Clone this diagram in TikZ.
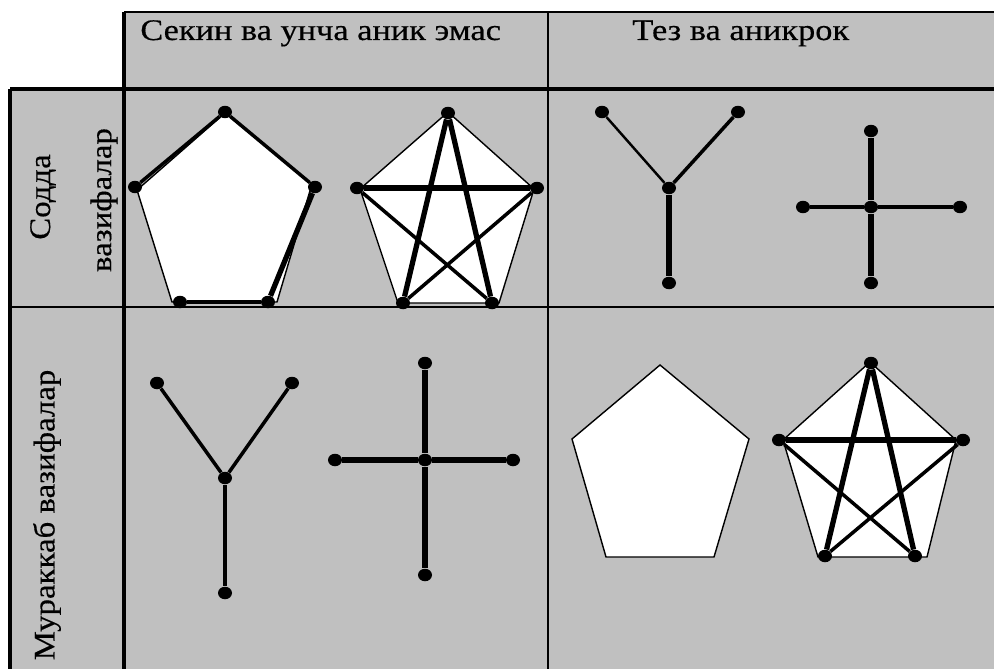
\documentclass[tikz,border=0pt]{standalone}
\usepackage{fontspec}
\usetikzlibrary{shapes.geometric}
\setmainfont{Liberation Serif}
\newfontfamily\headfont[FakeStretch=1.15, FakeBold=0.4]{Liberation Serif}
\newfontfamily\sidefont[FakeStretch=1.1, FakeBold=0.4]{Liberation Serif}
\definecolor{cellgray}{HTML}{C0C0C0}
\begin{document}
\begin{tikzpicture}[x=0.02cm, y=-0.02cm,
    vert/.style={ellipse, fill=black, inner sep=0pt, minimum width=0.28cm, minimum height=0.25cm},
    thinedge/.style={line width=1.4pt},
    midedge/.style={line width=2pt},
    thickedge/.style={line width=3pt},
    outline/.style={draw=black, fill=white, line width=0.8pt},
    label/.style={inner sep=0pt, font=\headfont\fontsize{17}{20}\selectfont},
    sidelabel/.style={inner sep=0pt, rotate=90, font=\sidefont\fontsize{17}{20}\selectfont}]
    \useasboundingbox (0,0) rectangle (994,669);
    % table background
    \fill[cellgray] (124,12) rectangle (994,669);
    \fill[cellgray] (10,89) rectangle (124,669);
    % table lines
    \draw[line width=1.1pt] (124,12) -- (994,12);
    \draw[line width=2.3pt] (10,89) -- (994,89);
    \draw[line width=2.3pt] (10,89) -- (10,669);
    \draw[line width=2.3pt] (124,12) -- (124,669);
    \draw[line width=1.1pt] (548,12) -- (548,669);
    \draw[line width=1.1pt] (10,307) -- (994,307);
    % headers
    \node[label, anchor=base west] (slow) at (140,40) {Секин ва унча аник эмас};
    \node[label, anchor=base west] (fast) at (632,40) {Тез ва аникрок};
    \node[sidelabel] (simple1) at (43,197) {Содда};
    \node[sidelabel] (simple2) at (104,200) {вазифалар};
    \node[sidelabel] (complex) at (47,515) {Мураккаб вазифалар};

    % slow, simple: pentagon with a path
    \draw[outline] (225,113) -- (312,184) -- (277,302) -- (172,302) -- (137,190) -- cycle;
    \node[vert] (p1t) at (225,112) {};
    \node[vert] (p1l) at (135,187) {};
    \node[vert] (p1r) at (315,187) {};
    \node[vert] (p1bl) at (180,302) {};
    \node[vert] (p1br) at (268,302) {};
    \draw[midedge] (p1l) -- (p1t) -- (p1r);
    \draw[thickedge] (p1r) -- (p1br);
    \draw[midedge] (p1br) -- (p1bl);

    % slow, simple: pentagon with star
    \draw[outline] (448,112) -- (534,189) -- (499,303) -- (398,303) -- (360,189) -- cycle;
    \node[vert] (p2t) at (448,113) {};
    \node[vert] (p2l) at (357,188) {};
    \node[vert] (p2r) at (537,188) {};
    \node[vert] (p2bl) at (403,303) {};
    \node[vert] (p2br) at (492,303) {};
    \draw[thickedge] (p2bl) -- (p2t) -- (p2br);
    \draw[thickedge] (p2l) -- (p2r);
    \draw[midedge] (p2l) -- (p2br);
    \draw[midedge] (p2r) -- (p2bl);

    % fast, simple: Y
    \node[vert] (y1a) at (602,112) {};
    \node[vert] (y1b) at (738,112) {};
    \node[vert] (y1c) at (669,188) {};
    \node[vert] (y1d) at (669,283) {};
    \draw[thinedge] (y1a) -- (y1c);
    \draw[midedge] (y1b) -- (y1c);
    \draw[thickedge] (y1c) -- (y1d);

    % fast, simple: cross
    \node[vert] (c1t) at (871,131) {};
    \node[vert] (c1l) at (803,207) {};
    \node[vert] (c1c) at (871,207) {};
    \node[vert] (c1r) at (960,207) {};
    \node[vert] (c1b) at (871,283) {};
    \draw[midedge] (c1l) -- (c1c) -- (c1r);
    \draw[thickedge] (c1t) -- (c1c) -- (c1b);

    % slow, complex: Y
    \node[vert] (y2a) at (157,383) {};
    \node[vert] (y2b) at (292,383) {};
    \node[vert] (y2c) at (225,478) {};
    \node[vert] (y2d) at (225,593) {};
    \draw[midedge] (y2a) -- (y2c);
    \draw[midedge] (y2b) -- (y2c);
    \draw[midedge] (y2c) -- (y2d);

    % slow, complex: cross
    \node[vert] (c2t) at (425,363) {};
    \node[vert] (c2l) at (335,460) {};
    \node[vert] (c2c) at (425,460) {};
    \node[vert] (c2r) at (513,460) {};
    \node[vert] (c2b) at (425,575) {};
    \draw[thickedge] (c2l) -- (c2c) -- (c2r);
    \draw[thickedge] (c2t) -- (c2c) -- (c2b);

    % fast, complex: plain pentagon
    \draw[outline] (660,365) -- (749,439) -- (714,557) -- (606,557) -- (572,439) -- cycle;

    % fast, complex: pentagon with star
    \draw[outline] (870,362) -- (956,440) -- (927,557) -- (818,557) -- (783,440) -- cycle;
    \node[vert] (p3t) at (871,363) {};
    \node[vert] (p3l) at (779,440) {};
    \node[vert] (p3r) at (963,440) {};
    \node[vert] (p3bl) at (825,556) {};
    \node[vert] (p3br) at (915,556) {};
    \draw[thickedge] (p3bl) -- (p3t) -- (p3br);
    \draw[thickedge] (p3l) -- (p3r);
    \draw[midedge] (p3l) -- (p3br);
    \draw[midedge] (p3r) -- (p3bl);
\end{tikzpicture}
\end{document}
